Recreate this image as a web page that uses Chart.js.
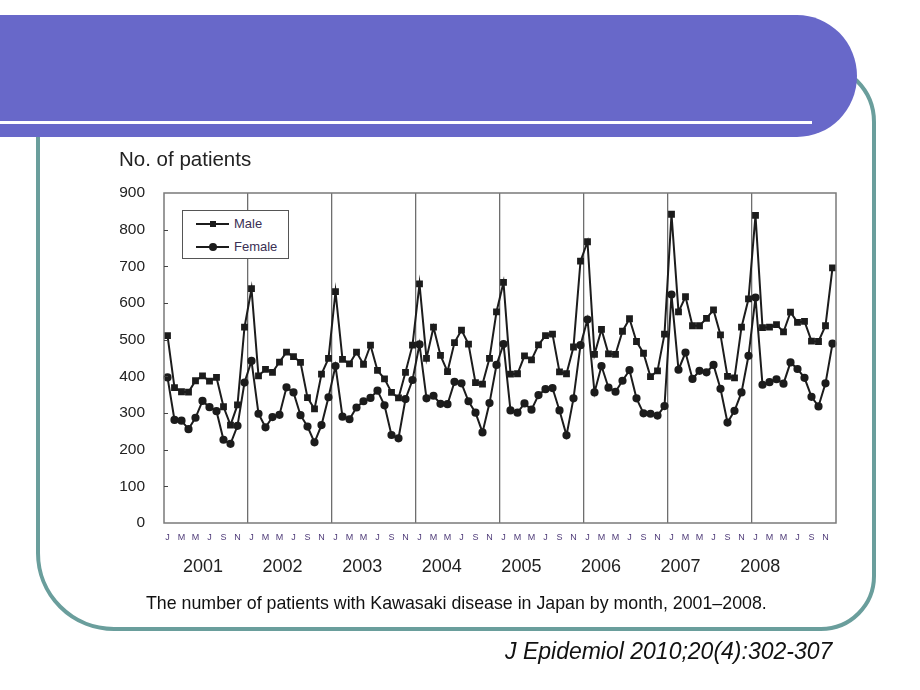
<!DOCTYPE html>
<html lang="en">
<head>
    <meta charset="UTF-8">
    <title>Kawasaki disease by month</title>
    <script src="https://cdn.jsdelivr.net/npm/chart.js"></script>
    <style>
        body { margin: 0; background: #fff; font-family: "Liberation Sans", Arial, sans-serif; }
        #slide { position: relative; width: 920px; height: 690px; overflow: hidden; }
        .frame {
            position: absolute; left: 36px; top: 62px; width: 832px; height: 561px;
            border: 4px solid #6a9e9c;
            border-radius: 0 60px 55px 78px;
        }
        .banner {
            position: absolute; left: 0; top: 15px; width: 857px; height: 122px;
            background: #6868c9;
            border-radius: 0 60px 60px 0 / 0 61px 61px 0;
        }
        .stripe { position: absolute; left: 0; top: 121px; width: 812px; height: 3px; background: #fff; }
        canvas { position: absolute; left: 0; top: 0; }
        .ytitle { position: absolute; left: 119px; top: 147px; font-size: 20.5px; color: #222; }
        .legend {
            position: absolute; left: 182px; top: 210px; width: 105px; height: 47px;
            border: 1px solid #555; background: #fff; font-size: 13px; color: #3b3054;
        }
        .legend .row { position: absolute; left: 13px; height: 14px; }
        .legend .line { position: absolute; left: 0; top: 6px; width: 33px; height: 2px; background: #1c1c1c; }
        .legend .mk { position: absolute; background: #1c1c1c; }
        .legend .sq { left: 14px; top: 4px; width: 6px; height: 6px; }
        .legend .ci { left: 13px; top: 3px; width: 8px; height: 8px; border-radius: 50%; }
        .legend .txt { position: absolute; left: 38px; top: -1px; }
        .year { position: absolute; top: 556px; font-size: 18px; color: #222; transform: translateX(-50%); }
        .caption { position: absolute; left: 146px; top: 593px; font-size: 17.8px; color: #111; white-space: nowrap; }
        .cite { position: absolute; left: 505px; top: 638px; font-size: 23px; font-style: italic; color: #111; white-space: nowrap; }
    </style>
</head>
<body>
<div id="slide">
    <div class="frame"></div>
    <div class="banner"></div>
    <div class="stripe"></div>
    <canvas id="chart" width="920" height="690"></canvas>
    <div class="ytitle">No. of patients</div>
    <div class="legend">
        <div class="row" style="top:6px"><div class="line"></div><div class="mk sq"></div><div class="txt">Male</div></div>
        <div class="row" style="top:29px"><div class="line"></div><div class="mk ci"></div><div class="txt">Female</div></div>
    </div>
    <div id="years"></div>
    <div class="caption">The number of patients with Kawasaki disease in Japan by month, 2001–2008.</div>
    <div class="cite">J Epidemiol 2010;20(4):302-307</div>
</div>

<script>
    const years = ['2001', '2002', '2003', '2004', '2005', '2006', '2007', '2008'];
    const monthLetters = ['J', 'F', 'M', 'A', 'M', 'J', 'J', 'A', 'S', 'O', 'N', 'D'];

    const male = [
        511, 369, 358, 357, 388, 401, 387, 397, 317, 267, 322, 534,
        639, 401, 419, 411, 439, 466, 454, 438, 342, 311, 406, 449,
        631, 446, 434, 466, 433, 485, 416, 393, 356, 341, 411, 485,
        652, 449, 534, 457, 413, 492, 526, 488, 383, 379, 449, 576,
        656, 406, 407, 456, 445, 486, 511, 515, 412, 407, 480, 714,
        767, 460, 528, 461, 460, 523, 557, 495, 463, 399, 415, 515,
        842, 576, 617, 538, 538, 558, 581, 513, 400, 396, 534, 611,
        839, 533, 534, 541, 521, 575, 547, 550, 496, 495, 538, 696
    ];
    const female = [
        397, 281, 279, 256, 287, 333, 316, 305, 227, 216, 265, 383,
        442, 298, 261, 289, 295, 370, 356, 294, 263, 220, 267, 343,
        428, 290, 283, 315, 332, 341, 361, 321, 240, 231, 338, 390,
        487, 340, 347, 325, 324, 385, 381, 332, 301, 247, 327, 431,
        488, 307, 301, 326, 309, 349, 365, 368, 307, 239, 340, 485,
        555, 356, 428, 369, 358, 388, 417, 340, 299, 298, 293, 319,
        623, 418, 465, 393, 415, 411, 431, 366, 274, 306, 356, 456,
        615, 377, 384, 392, 380, 438, 420, 396, 344, 318, 381, 489
    ];
    const yTicks = [0, 100, 200, 300, 400, 500, 600, 700, 800, 900];

    // one label per month, J F M ... for every year
    const labels = [];
    years.forEach(() => monthLetters.forEach(m => labels.push(m)));

    // year names under the month letters
    const yearsBox = document.getElementById('years');
    years.forEach((y, i) => {
        const d = document.createElement('div');
        d.className = 'year';
        d.style.left = (203 + i * 79.6) + 'px';
        d.textContent = y;
        yearsBox.appendChild(d);
    });

    // plot frame and the short inward ticks on the y axis
    const frameBox = {
        id: 'frameBox',
        afterDraw(chart) {
            const { ctx, chartArea: a, scales } = chart;
            ctx.save();
            ctx.strokeStyle = '#7a7a7a';
            ctx.lineWidth = 1.5;
            ctx.strokeRect(a.left, a.top, a.right - a.left, a.bottom - a.top);
            ctx.strokeStyle = '#444';
            ctx.lineWidth = 1;
            yTicks.slice(1, -1).forEach(v => {
                const y = Math.round(scales.y.getPixelForValue(v)) + 0.5;
                ctx.beginPath();
                ctx.moveTo(a.left, y);
                ctx.lineTo(a.left + 4, y);
                ctx.stroke();
            });
            ctx.restore();
        }
    };

    new Chart(document.getElementById('chart').getContext('2d'), {
        type: 'line',
        data: {
            labels: labels,
            datasets: [
                {
                    label: 'Male',
                    data: male,
                    borderColor: '#1c1c1c',
                    backgroundColor: '#1c1c1c',
                    borderWidth: 2,
                    pointStyle: 'rect',
                    pointRadius: 3.4,
                    tension: 0
                },
                {
                    label: 'Female',
                    data: female,
                    borderColor: '#1c1c1c',
                    backgroundColor: '#1c1c1c',
                    borderWidth: 2,
                    pointStyle: 'circle',
                    pointRadius: 3.1,
                    tension: 0
                }
            ]
        },
        options: {
            responsive: false,
            animation: false,
            layout: { padding: { left: 0, top: 193, right: 84, bottom: 147 } },
            plugins: { legend: { display: false }, tooltip: { enabled: false } },
            scales: {
                x: {
                    type: 'category',
                    offset: true,
                    afterFit(scale) { scale.height = 20; },
                    border: { display: false },
                    grid: {
                        offset: true,
                        drawTicks: false,
                        lineWidth: 1.3,
                        color: c => (c.index > 0 && c.index < labels.length && c.index % 12 === 0) ? '#6e6e6e' : 'rgba(0,0,0,0)'
                    },
                    ticks: {
                        autoSkip: false,
                        maxRotation: 0,
                        padding: 9,
                        color: '#4e3a78',
                        font: { family: '"Liberation Sans", Arial, sans-serif', size: 9 },
                        callback: (v, i) => i % 2 === 0 ? labels[i] : ''
                    }
                },
                y: {
                    min: 0,
                    max: 900,
                    afterFit(scale) { scale.width = 164; },
                    afterBuildTicks(scale) { scale.ticks = yTicks.map(v => ({ value: v })); },
                    border: { display: false },
                    grid: { display: false },
                    ticks: {
                        padding: 11,
                        color: '#222',
                        font: { family: '"Liberation Sans", Arial, sans-serif', size: 15.5 }
                    }
                }
            }
        },
        plugins: [frameBox]
    });
</script>
</body>
</html>
